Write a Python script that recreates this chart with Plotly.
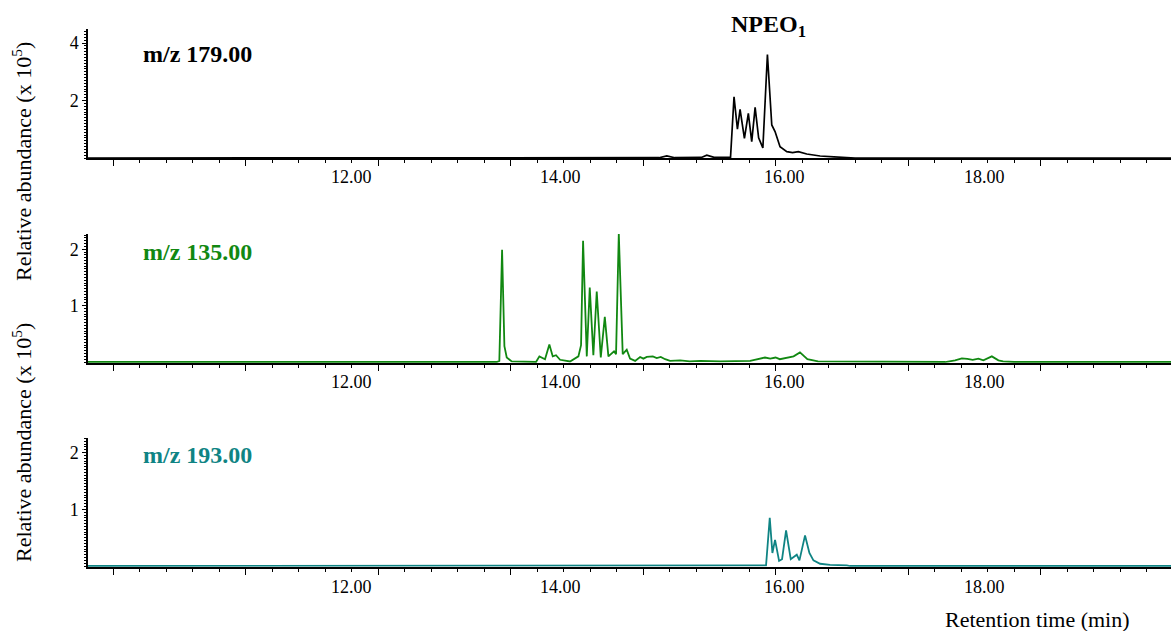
import plotly.graph_objects as go

W, H = 1171, 631
FONT = "Liberation Serif"

# ---------------- data (retention time in min, abundance x 10^5) ----------------
x_range = [9.514, 19.73]
x_tick_labels = ["12.00", "14.00", "16.00", "18.00"]
x_label_px = [352, 560, 784, 985]   # label centres as placed in the original figure

t179 = [9.51, 14.90, 14.974, 15.05, 15.30, 15.351, 15.42, 15.575, 15.608, 15.640, 15.665,
        15.706, 15.743, 15.775, 15.807, 15.84, 15.88, 15.923, 15.964, 15.995, 16.042,
        16.106, 16.16, 16.215, 16.294, 16.420, 16.55, 16.672, 16.75, 19.75]
a179 = [0.0, 0.01, 0.07, 0.01, 0.02, 0.10, 0.02, 0.03, 2.13, 1.00, 1.69,
        0.68, 1.55, 0.57, 1.76, 0.70, 0.35, 3.60, 1.15, 0.92, 0.39,
        0.22, 0.19, 0.22, 0.14, 0.07, 0.04, 0.02, 0.0, 0.0]

t135 = [9.51, 13.37, 13.394, 13.420, 13.442, 13.464, 13.511, 13.74, 13.772, 13.825, 13.866,
        13.898, 13.929, 13.967, 14.061, 14.140, 14.165, 14.184, 14.219, 14.247, 14.281,
        14.313, 14.351, 14.389, 14.423, 14.476, 14.495, 14.521, 14.558, 14.596, 14.627,
        14.675, 14.722, 14.753, 14.785, 14.842, 14.879, 14.917, 14.958, 15.005, 15.10,
        15.19, 15.29, 15.48, 15.76, 15.85, 15.90, 15.95, 16.00, 16.04, 16.11, 16.17,
        16.23, 16.30, 16.40, 17.60, 17.693, 17.757, 17.809, 17.860, 17.913, 17.960,
        18.040, 18.102, 18.146, 18.25, 19.75]
a135 = [0.0, 0.0, 0.02, 1.99, 0.28, 0.08, 0.01, 0.0, 0.10, 0.05, 0.31,
        0.10, 0.12, 0.04, 0.01, 0.10, 0.30, 2.15, 0.10, 1.32, 0.12,
        1.25, 0.08, 0.80, 0.10, 0.19, 0.14, 2.28, 0.14, 0.22, 0.06,
        0.02, 0.09, 0.06, 0.09, 0.10, 0.07, 0.09, 0.05, 0.02, 0.03,
        0.01, 0.02, 0.01, 0.02, 0.05, 0.08, 0.06, 0.08, 0.05, 0.07, 0.10,
        0.17, 0.05, 0.01, 0.0, 0.03, 0.065, 0.055, 0.04, 0.06, 0.03,
        0.10, 0.03, 0.01, 0.0, 0.0]

t193 = [9.51, 15.90, 15.910, 15.945, 15.970, 15.995, 16.033, 16.061, 16.099, 16.143,
        16.200, 16.225, 16.278, 16.319, 16.357, 16.420, 16.514, 16.672, 16.703, 19.75]
a193 = [0.0, 0.0, 0.01, 0.85, 0.23, 0.46, 0.09, 0.12, 0.63, 0.12,
        0.20, 0.10, 0.54, 0.23, 0.10, 0.04, 0.02, 0.01, 0.0, 0.0]

labels = ["m/z 179.00", "m/z 135.00", "m/z 193.00"]
colors = ["#000000", "#118811", "#0f8484"]

# ---------------- layout helpers ----------------
def px_x(p):
    return p / W

def px_y(p):
    return 1 - p / H

panels = [
    dict(top=29.3, bottom=158.0, yr=[0, 4.477], yticks=[2, 4], minor=0.1, lab_y=54, tick_y=177),
    dict(top=234.0, bottom=362.7, yr=[-0.012, 2.27], yticks=[1, 2], minor=0.05, lab_y=252, tick_y=382),
    dict(top=438.3, bottom=566.7, yr=[-0.012, 2.253], yticks=[1, 2], minor=0.05, lab_y=455, tick_y=587),
]
series = [(t179, a179), (t135, a135), (t193, a193)]
widths = [1.7, 1.8, 1.8]

fig = go.Figure()
annotations = []
for i, (p, (t, a)) in enumerate(zip(panels, series)):
    n = "" if i == 0 else str(i + 1)
    fig.add_trace(go.Scatter(x=t, y=a, mode="lines", xaxis="x" + n, yaxis="y" + n,
                             line=dict(color=colors[i], width=widths[i]),
                             hoverinfo="skip", showlegend=False))
    fig.layout["xaxis" + n] = dict(
        domain=[px_x(88), 1], anchor="y" + n, range=x_range,
        showgrid=False, zeroline=False, showline=True, linecolor="black", linewidth=2,
        layer="below traces",
        tickmode="linear", tick0=16, dtick=1.25, ticks="outside", ticklen=6,
        tickwidth=1.2, tickcolor="black", showticklabels=False,
        minor=dict(tickmode="linear", tick0=16, dtick=0.25, ticks="outside",
                   ticklen=3, tickwidth=1, tickcolor="black"),
    )
    fig.layout["yaxis" + n] = dict(
        domain=[px_y(p["bottom"]), px_y(p["top"])], anchor="x" + n, range=p["yr"],
        showgrid=False, zeroline=False, showline=True, linecolor="black", linewidth=1.5,
        tickmode="array", tickvals=p["yticks"], ticktext=[str(v) for v in p["yticks"]],
        ticks="outside", ticklen=4, tickwidth=1, tickcolor="black",
        tickfont=dict(family=FONT, size=18, color="black"),
        minor=dict(tickmode="linear", tick0=0, dtick=p["minor"], ticks="outside",
                   ticklen=2.5, tickwidth=1, tickcolor="black"),
    )
    annotations.append(dict(text="<b>%s</b>" % labels[i], xref="paper", yref="paper",
                            x=px_x(141), y=px_y(p["lab_y"]), xanchor="left", yanchor="middle",
                            showarrow=False, font=dict(family=FONT, size=24, color=colors[i])))
    for xp, s in zip(x_label_px, x_tick_labels):
        annotations.append(dict(text=s, xref="paper", yref="paper", x=px_x(xp), y=px_y(p["tick_y"]),
                                xanchor="center", yanchor="middle", showarrow=False,
                                font=dict(family=FONT, size=18, color="black")))

annotations.append(dict(text="<b>NPEO<sub>1</sub></b>", xref="paper", yref="paper",
                        x=px_x(768), y=px_y(26), xanchor="center", yanchor="middle",
                        showarrow=False, font=dict(family=FONT, size=24, color="black")))
for cy in (162, 443):
    annotations.append(dict(text="Relative abundance (x 10<sup>5</sup>)", xref="paper", yref="paper",
                            x=px_x(22), y=px_y(cy), xanchor="center", yanchor="middle",
                            textangle=-90, showarrow=False,
                            font=dict(family=FONT, size=22, color="black")))
annotations.append(dict(text="Retention time (min)", xref="paper", yref="paper",
                        x=px_x(1037), y=px_y(619), xanchor="center", yanchor="middle",
                        showarrow=False, font=dict(family=FONT, size=22, color="black")))

fig.update_layout(width=W, height=H, margin=dict(l=0, r=0, t=0, b=0),
                  paper_bgcolor="white", plot_bgcolor="white",
                  annotations=annotations, showlegend=False)

fig.write_html("out.html")
